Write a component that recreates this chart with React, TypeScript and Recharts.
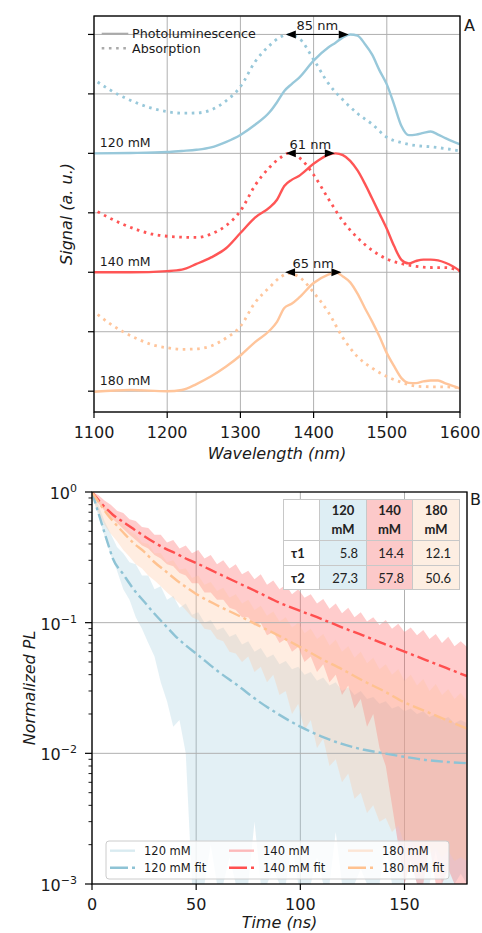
import React from 'react';
import {
  ComposedChart, Line, Area, XAxis, YAxis, CartesianGrid, ReferenceLine, ReferenceDot,
} from 'recharts';

const FONT = '"DejaVu Sans", sans-serif';
const INK = '#1a1a1a';

// ---------- panel A : normalised spectra, each sample shifted up by 2 ----------
const samples = ['120 mM', '140 mM', '180 mM'];
const offsets = [4, 2, 0];
const sampleColors = ['#98c8da', '#ff5555', '#ffc59b'];

const plWavelengths = [1100, 1150, 1200, 1220, 1240, 1260, 1280, 1300, 1320, 1340, 1350, 1360, 1370, 1380, 1400, 1420, 1430, 1440, 1450, 1460, 1470, 1480, 1490, 1500, 1510, 1520, 1530, 1540, 1550, 1560, 1570, 1580, 1590, 1600];
const pl120 = [0, 0.003, 0.011, 0.02, 0.03, 0.05, 0.095, 0.155, 0.24, 0.347, 0.43, 0.525, 0.583, 0.635, 0.78, 0.89, 0.93, 0.975, 1.0, 0.99, 0.92, 0.83, 0.698, 0.58, 0.41, 0.23, 0.153, 0.158, 0.172, 0.184, 0.158, 0.128, 0.1, 0.076];
const pl140 = [0, 0, 0.01, 0.022, 0.07, 0.125, 0.2, 0.33, 0.46, 0.545, 0.61, 0.725, 0.777, 0.81, 0.912, 0.987, 1.0, 0.985, 0.937, 0.856, 0.745, 0.62, 0.493, 0.365, 0.22, 0.105, 0.075, 0.095, 0.106, 0.106, 0.1, 0.08, 0.05, 0.011];
const pl180 = [-0.005, 0.01, 0.0, 0.01, 0.06, 0.125, 0.205, 0.3, 0.413, 0.51, 0.583, 0.7, 0.735, 0.786, 0.91, 0.98, 1.0, 0.965, 0.915, 0.82, 0.7, 0.585, 0.46, 0.32, 0.21, 0.11, 0.07, 0.068, 0.082, 0.09, 0.09, 0.066, 0.045, 0.022];

const absWavelengths = [1105, 1120, 1140, 1160, 1180, 1200, 1220, 1240, 1260, 1280, 1300, 1320, 1340, 1355, 1365, 1380, 1400, 1420, 1440, 1460, 1480, 1500, 1520, 1540, 1560, 1580, 1600];
const abs120 = [0.6, 0.54, 0.473, 0.42, 0.378, 0.35, 0.338, 0.34, 0.365, 0.44, 0.56, 0.77, 0.908, 0.98, 1.0, 0.968, 0.79, 0.59, 0.45, 0.335, 0.245, 0.135, 0.09, 0.065, 0.055, 0.04, 0.02];
const abs140 = [0.51, 0.46, 0.403, 0.355, 0.32, 0.303, 0.295, 0.293, 0.322, 0.39, 0.515, 0.73, 0.883, 0.965, 1.0, 0.965, 0.82, 0.62, 0.43, 0.29, 0.185, 0.112, 0.072, 0.05, 0.04, 0.039, 0.011];
const abs180 = [0.645, 0.575, 0.499, 0.438, 0.39, 0.365, 0.352, 0.355, 0.38, 0.445, 0.545, 0.745, 0.875, 0.96, 0.99, 0.962, 0.83, 0.665, 0.45, 0.29, 0.195, 0.124, 0.075, 0.042, 0.037, 0.036, 0.031];

const plSeries = [pl120, pl140, pl180];
const absSeries = [abs120, abs140, abs180];

// arrow from absorption peak to PL peak
const absPeaks = [1362, 1362, 1361];
const plPeaks = [1448, 1429, 1438];
const shiftLabels = ['85 nm', '61 nm', '65 nm'];

const wlTicks = [1100, 1200, 1300, 1400, 1500, 1600];
const signalTicks = [0, 1, 2, 3, 4, 5, 6];

// ---------- panel B : PL decays ----------
const tFit = [0, 2.5, 5, 7.5, 10, 15, 20, 25, 30, 35, 40, 45, 50, 60, 70, 80, 90, 100, 110, 120, 130, 140, 150, 160, 170, 180];
const fit120 = [1, 0.74, 0.55, 0.41, 0.31, 0.235, 0.18, 0.145, 0.117, 0.096, 0.079, 0.067, 0.058, 0.043, 0.033, 0.025, 0.0197, 0.016, 0.0135, 0.0118, 0.0107, 0.01, 0.0094, 0.0089, 0.0086, 0.0084];
const fit140 = [1, 0.89, 0.8, 0.73, 0.67, 0.59, 0.52, 0.46, 0.41, 0.37, 0.34, 0.31, 0.286, 0.24, 0.202, 0.17, 0.142, 0.123, 0.107, 0.092, 0.08, 0.069, 0.06, 0.052, 0.045, 0.039];
const fit180 = [1, 0.87, 0.76, 0.67, 0.6, 0.49, 0.405, 0.35, 0.29, 0.25, 0.215, 0.188, 0.166, 0.136, 0.114, 0.095, 0.079, 0.065, 0.053, 0.044, 0.036, 0.03, 0.0245, 0.021, 0.018, 0.0155];

// noisy raw traces, read as min/max envelopes
const tRaw = [0, 3, 6, 9, 12, 15, 18, 21, 24, 27, 30, 33, 36, 39, 42, 45, 48, 51, 54, 57, 60, 63, 66, 69, 72, 75, 78, 81, 84, 87, 90, 93, 96, 99, 102, 105, 108, 111, 114, 117, 120, 123, 126, 129, 132, 135, 138, 141, 144, 147, 150, 153, 156, 159, 162, 165, 168, 171, 174, 177, 180];
const raw120Hi = [1.0, 0.8, 0.6, 0.48, 0.38, 0.34, 0.29, 0.28, 0.23, 0.23, 0.18, 0.19, 0.15, 0.16, 0.13, 0.14, 0.115, 0.12, 0.1, 0.105, 0.088, 0.092, 0.078, 0.082, 0.068, 0.072, 0.06, 0.064, 0.054, 0.057, 0.048, 0.051, 0.044, 0.046, 0.04, 0.042, 0.036, 0.038, 0.033, 0.035, 0.03, 0.032, 0.028, 0.03, 0.026, 0.027, 0.024, 0.025, 0.022, 0.023, 0.021, 0.022, 0.02, 0.021, 0.019, 0.02, 0.018, 0.019, 0.017, 0.018, 0.017];
const raw120Lo = [0.95, 0.66, 0.46, 0.33, 0.25, 0.18, 0.15, 0.11, 0.09, 0.07, 0.055, 0.035, 0.025, 0.016, 0.018, 0.01, 0.001, 0.001, 0.001, 0.002, 0.001, 0.001, 0.0016, 0.001, 0.001, 0.001, 0.003, 0.001, 0.001, 0.0013, 0.001, 0.001, 0.002, 0.001, 0.001, 0.001, 0.0016, 0.001, 0.001, 0.0025, 0.001, 0.001, 0.001, 0.0013, 0.001, 0.001, 0.001, 0.002, 0.001, 0.001, 0.001, 0.0015, 0.001, 0.001, 0.001, 0.0018, 0.001, 0.001, 0.001, 0.0012, 0.001];
const raw140Hi = [1.0, 0.95, 0.86, 0.8, 0.72, 0.69, 0.62, 0.6, 0.54, 0.53, 0.47, 0.47, 0.41, 0.43, 0.37, 0.39, 0.34, 0.36, 0.31, 0.33, 0.28, 0.3, 0.26, 0.28, 0.235, 0.25, 0.215, 0.235, 0.195, 0.21, 0.18, 0.195, 0.165, 0.18, 0.155, 0.165, 0.14, 0.152, 0.128, 0.14, 0.118, 0.13, 0.11, 0.12, 0.102, 0.11, 0.096, 0.105, 0.09, 0.098, 0.085, 0.092, 0.08, 0.088, 0.075, 0.082, 0.07, 0.078, 0.066, 0.072, 0.065];
const raw140Lo = [0.95, 0.82, 0.72, 0.64, 0.58, 0.52, 0.47, 0.43, 0.39, 0.37, 0.33, 0.31, 0.28, 0.27, 0.24, 0.23, 0.2, 0.2, 0.17, 0.17, 0.15, 0.15, 0.13, 0.125, 0.11, 0.11, 0.095, 0.1, 0.08, 0.085, 0.07, 0.075, 0.06, 0.065, 0.05, 0.055, 0.042, 0.048, 0.035, 0.04, 0.028, 0.033, 0.022, 0.026, 0.016, 0.02, 0.011, 0.008, 0.004, 0.002, 0.001, 0.0015, 0.001, 0.001, 0.002, 0.001, 0.001, 0.0013, 0.001, 0.001, 0.001];
const raw180Hi = [1.0, 0.9, 0.78, 0.7, 0.62, 0.57, 0.5, 0.47, 0.41, 0.4, 0.34, 0.34, 0.29, 0.3, 0.255, 0.26, 0.22, 0.23, 0.195, 0.205, 0.175, 0.185, 0.155, 0.165, 0.14, 0.15, 0.125, 0.135, 0.113, 0.122, 0.102, 0.11, 0.092, 0.1, 0.083, 0.09, 0.075, 0.082, 0.067, 0.074, 0.06, 0.066, 0.054, 0.06, 0.049, 0.054, 0.044, 0.048, 0.04, 0.044, 0.036, 0.04, 0.033, 0.037, 0.03, 0.034, 0.028, 0.031, 0.026, 0.029, 0.025];
const raw180Lo = [0.9, 0.7, 0.56, 0.48, 0.42, 0.36, 0.32, 0.28, 0.26, 0.23, 0.21, 0.19, 0.17, 0.155, 0.14, 0.125, 0.11, 0.105, 0.09, 0.088, 0.075, 0.072, 0.06, 0.058, 0.05, 0.055, 0.042, 0.046, 0.035, 0.04, 0.028, 0.03, 0.02, 0.024, 0.015, 0.018, 0.011, 0.013, 0.008, 0.009, 0.006, 0.007, 0.0045, 0.005, 0.0035, 0.004, 0.003, 0.0032, 0.0025, 0.0028, 0.002, 0.0022, 0.0018, 0.002, 0.0017, 0.0019, 0.0016, 0.0018, 0.0015, 0.0016, 0.0015];

const fitSeries = [fit120, fit140, fit180];
const rawHi = [raw120Hi, raw140Hi, raw180Hi];
const rawLo = [raw120Lo, raw140Lo, raw180Lo];
const rawOpacity = [0.27, 0.3, 0.3];
const fitColors = ['#8ec3d5', '#ff4f4f', '#ffc290'];

const timeTicks = [0, 50, 100, 150];
const plTicks = [0.001, 0.002, 0.003, 0.004, 0.005, 0.006, 0.007, 0.008, 0.009, 0.01, 0.02, 0.03, 0.04, 0.05, 0.06, 0.07, 0.08, 0.09, 0.1, 0.2, 0.3, 0.4, 0.5, 0.6, 0.7, 0.8, 0.9, 1];
const plGrid = [0.1, 0.01];

// lifetimes table
const tableHeads = ['120', '140', '180'];
const tau1 = ['5.8', '14.4', '12.1'];
const tau2 = ['27.3', '57.8', '50.6'];
const tableFills = ['#deeef4', '#fcc9c9', '#fdeee2'];

// ---------- layout ----------
const A = { left: 94, top: 16, right: 460, bottom: 412 };
const B = { left: 92, top: 492, right: 467, bottom: 884 };

const XTick = ({ x, y, payload }: any) => (
  <g>
    <line x1={x} x2={x} y1={y} y2={y + 6} stroke="#000" strokeWidth={1.2} />
    <text x={x} y={y + 26} textAnchor="middle" fontSize={16} fill={INK} fontFamily={FONT}>{payload.value}</text>
  </g>
);

const YTickMark = ({ x, y }: any) => (
  <line x1={x - 6} x2={x} y1={y} y2={y} stroke="#000" strokeWidth={1.2} />
);

const LogTick = ({ x, y, payload }: any) => {
  const lg = Math.log10(payload.value);
  const e = Math.round(lg);
  const major = Math.abs(lg - e) < 1e-6;
  return (
    <g>
      <line x1={x - (major ? 7 : 3.5)} x2={x} y1={y} y2={y} stroke="#000" strokeWidth={major ? 1.2 : 0.9} />
      {major && (
        <text x={x - 15} y={y + 7} textAnchor="end" fontSize={16} fill={INK} fontFamily={FONT}>
          10<tspan dy={-7} fontSize={11}>{e === 0 ? '0' : `\u2212${-e}`}</tspan>
        </text>
      )}
    </g>
  );
};

const ShiftArrow = ({ x1, x2, y1, text }: any) => {
  const head = 10;
  const half = 4;
  return (
    <g>
      <line x1={x1 + head} x2={x2 - head} y1={y1} y2={y1} stroke="#000" strokeWidth={1} />
      <polygon points={`${x1},${y1} ${x1 + head},${y1 - half} ${x1 + head},${y1 + half}`} fill="#000" />
      <polygon points={`${x2},${y1} ${x2 - head},${y1 - half} ${x2 - head},${y1 + half}`} fill="#000" />
      <text x={(x1 + x2) / 2} y={y1 - 4} textAnchor="middle" fontSize={13} fill={INK} fontFamily={FONT}>{text}</text>
    </g>
  );
};

function SpectraPanel() {
  return (
    <ComposedChart width={482} height={470} margin={{ top: A.top, right: 482 - A.right, bottom: 0, left: 0 }}>
      <CartesianGrid stroke="#b0b0b0" strokeWidth={1} />
      <XAxis type="number" dataKey="x" domain={[1100, 1600]} ticks={wlTicks} interval={0} height={470 - A.bottom}
        tickSize={0} tickMargin={0} axisLine={false} tickLine={false} tick={XTick} allowDataOverflow />
      <YAxis type="number" domain={[-0.35, 6.31]} ticks={signalTicks} interval={0} width={A.left}
        tickSize={0} tickMargin={0} axisLine={false} tickLine={false} tick={YTickMark} allowDataOverflow />
      {samples.map((s, i) => (
        <Line key={`pl-${s}`} data={plWavelengths.map((x, j) => ({ x, y: offsets[i] + 2 * plSeries[i][j] }))}
          dataKey="y" type="monotone" stroke={sampleColors[i]} strokeWidth={2.4} dot={false} activeDot={false}
          isAnimationActive={false} />
      ))}
      {samples.map((s, i) => (
        <Line key={`abs-${s}`} data={absWavelengths.map((x, j) => ({ x, y: offsets[i] + 2 * absSeries[i][j] }))}
          dataKey="y" type="monotone" stroke={sampleColors[i]} strokeWidth={2.8} strokeDasharray="2.6 4.6"
          dot={false} activeDot={false} isAnimationActive={false} />
      ))}
      {samples.map((s, i) => (
        <ReferenceLine key={`arr-${s}`}
          segment={[{ x: absPeaks[i], y: offsets[i] + 2 }, { x: plPeaks[i], y: offsets[i] + 2 }]}
          ifOverflow="visible"
          shape={(p: any) => <ShiftArrow {...p} text={shiftLabels[i]} />} />
      ))}
      {samples.map((s, i) => (
        <ReferenceDot key={`lab-${s}`} x={1108} y={offsets[i] + 0.1} ifOverflow="visible"
          shape={(p: any) => <text x={p.cx} y={p.cy} fontSize={12.5} fill={INK} fontFamily={FONT}>{s}</text>} />
      ))}
    </ComposedChart>
  );
}

function DecayPanel() {
  return (
    <ComposedChart width={482} height={933 - B.top + 22} margin={{ top: 22, right: 482 - B.right, bottom: 0, left: 0 }}>
      <CartesianGrid stroke="#b0b0b0" strokeWidth={1} horizontal={false} />
      <XAxis type="number" dataKey="t" domain={[0, 180]} ticks={timeTicks} interval={0} height={933 - B.bottom}
        tickSize={0} tickMargin={0} axisLine={false} tickLine={false} tick={XTick} allowDataOverflow />
      <YAxis type="number" scale="log" domain={[0.001, 1]} ticks={plTicks} interval={0} width={B.left}
        tickSize={0} tickMargin={0} axisLine={false} tickLine={false} tick={LogTick} allowDataOverflow />
      {plGrid.map((v) => (
        <ReferenceLine key={`g-${v}`} y={v} stroke="#b0b0b0" strokeWidth={1} />
      ))}
      {samples.map((s, i) => (
        <Area key={`raw-${s}`} data={tRaw.map((t, j) => ({ t, r: [rawLo[i][j], rawHi[i][j]] }))}
          dataKey="r" type="linear" stroke="none" fill={sampleColors[i]} fillOpacity={rawOpacity[i]}
          dot={false} activeDot={false} isAnimationActive={false} />
      ))}
      {samples.map((s, i) => (
        <Line key={`fit-${s}`} data={tFit.map((t, j) => ({ t, v: fitSeries[i][j] }))}
          dataKey="v" type="monotone" stroke={fitColors[i]} strokeWidth={2.4} strokeDasharray="12 4 3 4"
          dot={false} activeDot={false} isAnimationActive={false} />
      ))}
    </ComposedChart>
  );
}

function Overlay() {
  const legendCols = [110, 229, 348];
  const rows = [850.7, 867.7];
  return (
    <svg width={482} height={933} style={{ position: 'absolute', left: 0, top: 0, pointerEvents: 'none' }}
      fontFamily={FONT}>
      <rect x={A.left} y={A.top} width={A.right - A.left} height={A.bottom - A.top} fill="none" stroke="#000" strokeWidth={1.3} />
      <rect x={B.left} y={B.top} width={B.right - B.left} height={B.bottom - B.top} fill="none" stroke="#000" strokeWidth={1.3} />

      {/* panel A legend */}
      <line x1={101.7} x2={128.3} y1={33.7} y2={33.7} stroke="#aaaaaa" strokeWidth={2} />
      <text x={132} y={37.7} fontSize={12.7} fill={INK}>Photoluminescence</text>
      <line x1={101.7} x2={128.3} y1={48.3} y2={48.3} stroke="#aaaaaa" strokeWidth={2.6} strokeDasharray="2.6 4.6" />
      <text x={132} y={52.5} fontSize={12.7} fill={INK}>Absorption</text>

      <text x={464} y={30.7} fontSize={16} fill={INK}>A</text>
      <text x={470} y={505} fontSize={16} fill={INK}>B</text>

      <text x={(A.left + A.right) / 2} y={459} textAnchor="middle" fontSize={16} fontStyle="italic" fill={INK}>Wavelength (nm)</text>
      <text transform={`translate(72, ${(A.top + A.bottom) / 2}) rotate(-90)`} textAnchor="middle" fontSize={16} fontStyle="italic" fill={INK}>Signal (a. u.)</text>
      <text x={(B.left + B.right) / 2} y={928} textAnchor="middle" fontSize={16} fontStyle="italic" fill={INK}>Time (ns)</text>
      <text transform={`translate(35, ${(B.top + B.bottom) / 2}) rotate(-90)`} textAnchor="middle" fontSize={16} fontStyle="italic" fill={INK}>Normalized PL</text>

      {/* panel B legend */}
      <rect x={106} y={841} width={343} height={38} rx={3} fill="#fff" fillOpacity={0.8} stroke="#cccccc" strokeWidth={1} />
      {samples.map((s, i) => (
        <g key={`leg-${s}`}>
          <line x1={legendCols[i]} x2={legendCols[i] + 25} y1={rows[0]} y2={rows[0]} stroke={sampleColors[i]}
            strokeOpacity={rawOpacity[i] + 0.1} strokeWidth={2.4} />
          <text x={legendCols[i] + 34} y={rows[0] + 4} fontSize={11.5} fill={INK}>{s}</text>
          <line x1={legendCols[i]} x2={legendCols[i] + 25} y1={rows[1]} y2={rows[1]} stroke={fitColors[i]}
            strokeWidth={2.4} strokeDasharray="18 4 3 4" />
          <text x={legendCols[i] + 34} y={rows[1] + 4} fontSize={11.5} fill={INK}>{`${s} fit`}</text>
        </g>
      ))}
    </svg>
  );
}

function LifetimeTable() {
  const cell: React.CSSProperties = { border: '1px solid #c8c8c8', padding: 0 };
  return (
    <table style={{
      position: 'absolute', left: 283, top: 499, width: 176, borderCollapse: 'collapse', tableLayout: 'fixed',
      background: '#fff', fontFamily: 'Lato, "Open Sans", sans-serif', fontSize: 13, color: '#222',
    }}>
      <colgroup>
        <col style={{ width: 36 }} />
        <col style={{ width: 47 }} />
        <col style={{ width: 46 }} />
        <col style={{ width: 47 }} />
      </colgroup>
      <tbody>
        <tr style={{ height: 41 }}>
          <td style={cell} />
          {tableHeads.map((h, i) => (
            <td key={h} style={{ ...cell, background: tableFills[i], textAlign: 'center', fontWeight: 700, lineHeight: '19px' }}>
              {h}<br />mM
            </td>
          ))}
        </tr>
        {[tau1, tau2].map((row, r) => (
          <tr key={r} style={{ height: r === 0 ? 25 : 24 }}>
            <td style={{ ...cell, fontWeight: 700, paddingLeft: 7 }}>{`\u03c4${r + 1}`}</td>
            {row.map((v, i) => (
              <td key={i} style={{ ...cell, background: tableFills[i], textAlign: 'right', paddingRight: 8 }}>{v}</td>
            ))}
          </tr>
        ))}
      </tbody>
    </table>
  );
}

export default function App() {
  return (
    <div style={{ position: 'absolute', left: 0, top: 0, width: 482, height: 933, background: '#fff', overflow: 'hidden' }}>
      <div style={{ position: 'absolute', left: 0, top: 0 }}>
        <SpectraPanel />
      </div>
      <div style={{ position: 'absolute', left: 0, top: B.top - 22 }}>
        <DecayPanel />
      </div>
      <Overlay />
      <LifetimeTable />
    </div>
  );
}
